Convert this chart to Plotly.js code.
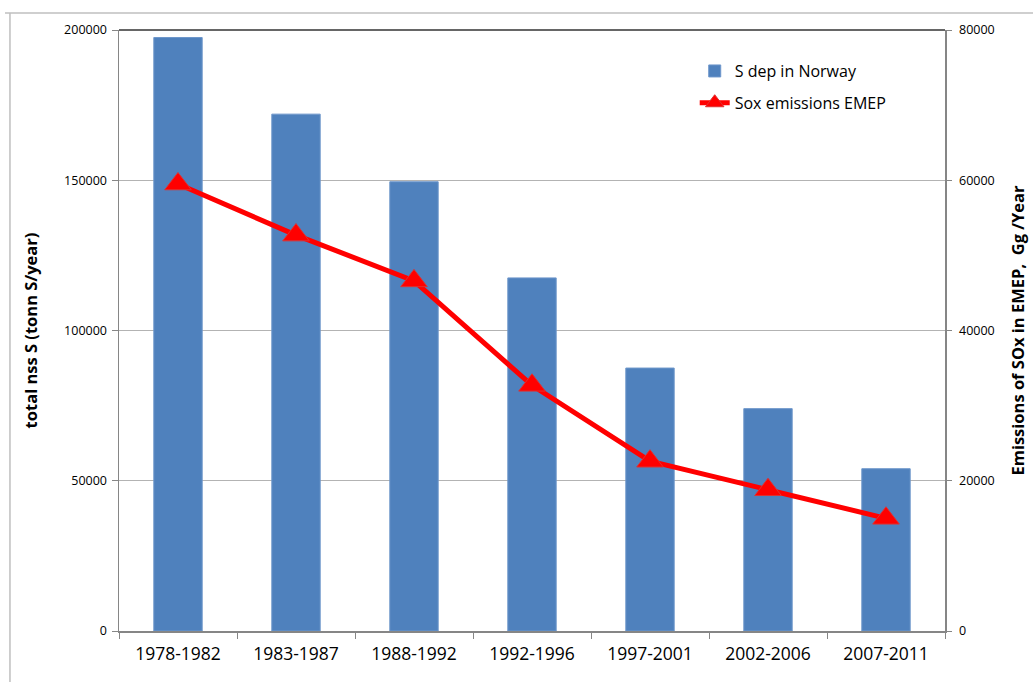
<!DOCTYPE html>
<html>
<head>
<meta charset="utf-8">
<script src="https://cdn.plot.ly/plotly-3.0.1.min.js"></script>
<style>
html,body{margin:0;padding:0;background:#fff;}
#chart{width:1033px;height:682px;}
</style>
</head>
<body>
<div id="chart"></div>
<script>
const periods = ["1978-1982","1983-1987","1988-1992","1992-1996","1997-2001","2002-2006","2007-2011"];
const sDepNorway = [197500,172000,149500,117500,87500,74000,54000];
const soxEmissions = [59500,52700,46600,32700,22600,18800,15000];
const leftTicks = [0,50000,100000,150000,200000];
const rightTicks = [0,20000,40000,60000,80000];

const FONT = "Open Sans, Lato, sans-serif";

const traces = [
  {
    type: "bar",
    name: "S dep in Norway",
    x: periods,
    y: sDepNorway,
    marker: {color: "#4F81BD", line: {color: "#6E97CB", width: 1}},
    legendgroup: "a",
    yaxis: "y"
  },
  {
    type: "scatter",
    mode: "lines+markers",
    name: "Sox emissions EMEP",
    x: periods,
    y: soxEmissions,
    line: {color: "#FF0000", width: 5},
    marker: {symbol: "triangle-up", size: 23, color: "#FF0000", line: {color: "#E03030", width: 1}},
    legendgroup: "b",
    yaxis: "y2"
  }
];

const layout = {
  width: 1033,
  height: 682,
  margin: {l: 119, r: 88, t: 30, b: 51},
  paper_bgcolor: "#ffffff",
  plot_bgcolor: "#ffffff",
  font: {family: FONT, color: "#000000"},
  bargap: 0.59,
  showlegend: true,
  legend: {
    x: 0.697, y: 0.96, xanchor: "left", yanchor: "top",
    font: {family: FONT, size: 16, color: "#000"},
    bgcolor: "rgba(0,0,0,0)",
    traceorder: "grouped",
    tracegroupgap: 8,
    itemwidth: 30
  },
  xaxis: {
    type: "category",
    showline: true, linecolor: "#868686", linewidth: 1.5,
    ticks: "outside", tickson: "boundaries", ticklen: 6, tickcolor: "#868686",
    tickfont: {family: FONT, size: 17.5, color: "#000"},
    ticklabelstandoff: 6,
    showgrid: false, zeroline: false,
    automargin: false
  },
  yaxis: {
    range: [0, 200000],
    tickvals: leftTicks,
    ticktext: leftTicks.map(String),
    showline: true, linecolor: "#868686", linewidth: 1.5,
    ticks: "outside", ticklen: 6, tickcolor: "#868686",
    tickfont: {family: FONT, size: 12.5, color: "#000"},
    ticklabelstandoff: 2,
    showgrid: true, gridcolor: "#B3B3B3", gridwidth: 1.3,
    zeroline: false,
    automargin: false,
    title: {text: "total nss S (tonn S/year)", font: {family: FONT, size: 16.5, color: "#000", weight: "bold"}, standoff: 22}
  },
  yaxis2: {
    overlaying: "y", side: "right",
    range: [0, 80000],
    tickvals: rightTicks,
    ticktext: rightTicks.map(String),
    showline: true, linecolor: "#868686", linewidth: 1.5,
    ticks: "outside", ticklen: 5, tickcolor: "#868686",
    tickfont: {family: FONT, size: 12.5, color: "#000"},
    ticklabelstandoff: 5,
    showgrid: false, zeroline: false,
    automargin: false,
    title: {text: "Emissions of SOx in EMEP,  Gg /Year", font: {family: FONT, size: 16.5, color: "#000", weight: "bold"}, standoff: 18}
  },
  shapes: [
    {type: "line", xref: "paper", yref: "paper", x0: 0, x1: 1, y0: 1, y1: 1, line: {color: "#333333", width: 1.5}},
    {type: "line", xref: "paper", yref: "paper", x0: -0.132, x1: -0.132, y0: 1.0283, y1: -0.1, line: {color: "#BFBFBF", width: 1.5}},
    {type: "line", xref: "paper", yref: "paper", x0: -0.138, x1: 1.12, y0: 1.0283, y1: 1.0283, line: {color: "#BFBFBF", width: 1.5}}
  ]
};

Plotly.newPlot("chart", traces, layout, {displayModeBar: false, staticPlot: true});
</script>
</body>
</html>
